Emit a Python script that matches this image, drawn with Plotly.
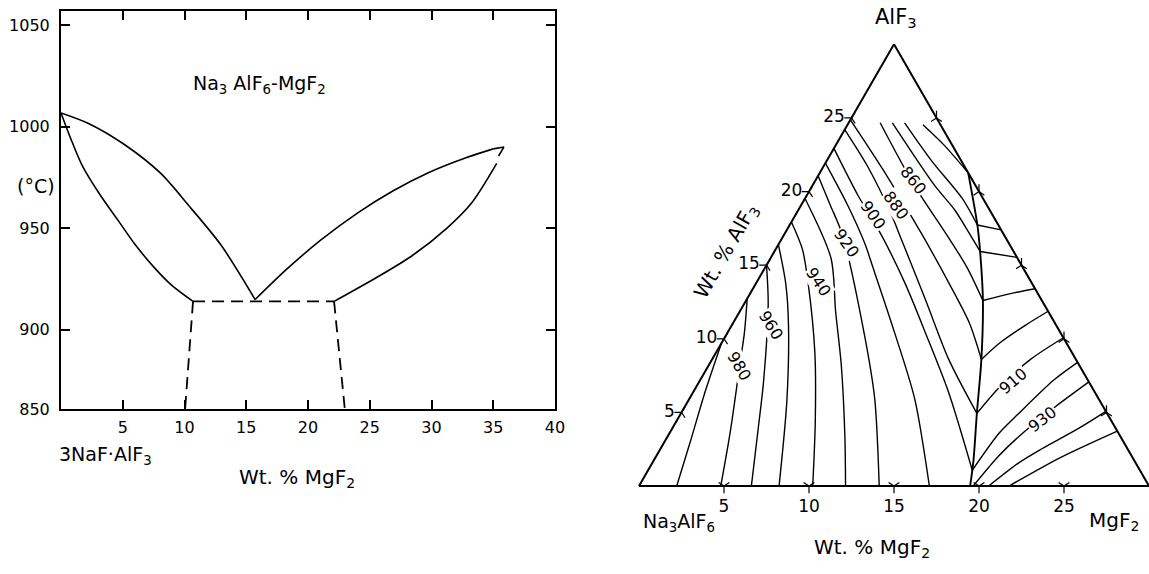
import plotly.graph_objects as go

W, H = 1149, 574
FONT = "DejaVu Sans"

# ---------------- Left: binary Na3AlF6-MgF2 (wt% MgF2, deg C) ----------------
liq_left_x = [0, 2.27, 5.19, 8.08, 10.37, 12.97, 15.72]
liq_left_t = [1006.8, 1001.5, 991.0, 977.0, 961.0, 941.6, 914.9]
sol_left_x = [0, 0.8, 1.71, 3.16, 4.61, 6.0, 7.5, 8.95, 10.69]
sol_left_t = [1006.8, 994.0, 981.0, 966.5, 954.0, 942.0, 931.0, 922.0, 914.0]
liq_right_x = [15.72, 18.21, 21.1, 24.0, 26.9, 29.79, 32.68, 35.0]
liq_right_t = [914.9, 929.5, 944.5, 957.5, 968.5, 977.5, 984.5, 989.1]
sol_right_x = [22.11, 25.45, 28.34, 31.23, 33.26, 35.28]
sol_right_t = [914.0, 925.4, 936.1, 950.0, 962.6, 982.0]
hook_x = [35.0, 35.86, 35.43]
hook_t = [989.1, 990.0, 985.6]
eut_x = [10.69, 22.11]
eut_t = [914.0, 914.0]
dash_left_x = [10.69, 10.05]
dash_right_x = [22.11, 22.98]
AXIS_FLOOR = 861.0          # bottom of the temperature axis (labelled 850)
dash_left_t = [914.0, AXIS_FLOOR]
dash_right_t = [914.0, AXIS_FLOOR]

y_tickvals = [AXIS_FLOOR, 900, 950, 1000, 1050]
y_ticktext = ["850", "900", "950", "1000", "1050"]
x_tickvals = [5, 10, 15, 20, 25, 30, 35, 40]

# ---------------- Right: ternary section (wt% AlF3, wt% MgF2) ----------------
# isotherms in the Na3AlF6 primary field
iso_990_alf3 = [9.7, 6.4, 3.07, 0]
iso_990_mgf2 = [0, 0.69, 1.50, 2.22]
iso_980_alf3 = [12.73, 10.4, 8.4, 3.73, 0]
iso_980_mgf2 = [0, 1.0, 1.75, 3.51, 4.81]
iso_970_alf3 = [15.0, 12.4, 7.07, 3.73, 0]
iso_970_mgf2 = [0, 1.40, 3.79, 5.13, 6.61]
iso_960_alf3 = [16.4, 13.73, 10.87, 5.73, 0]
iso_960_mgf2 = [0, 1.77, 3.36, 5.83, 8.24]
iso_950_alf3 = [17.93, 16.07, 13.73, 9.07, 4.4, 0]
iso_950_mgf2 = [0, 1.58, 3.09, 5.81, 8.17, 10.22]
iso_940_alf3 = [19.53, 15.47, 11.87, 8.2, 3.4, 0]
iso_940_mgf2 = [0, 3.56, 5.63, 7.8, 10.41, 12.15]
iso_930_alf3 = [21.07, 19.07, 17.07, 10.4, 5.93, 0]
iso_930_mgf2 = [0, 1.72, 3.43, 8.04, 10.9, 14.13]
iso_920_alf3 = [21.93, 19.07, 16.47, 14.87, 10.4, 5.93, 0]
iso_920_mgf2 = [0, 2.74, 5.05, 6.32, 9.84, 13.25, 17.08]
iso_910_alf3 = [22.93, 19.73, 17.07, 13.73, 10.4, 6.4, 1.07]
iso_910_mgf2 = [0, 3.02, 5.71, 8.8, 11.65, 15.0, 19.07]
iso_900_alf3 = [24.2, 21.6, 18.4, 16.87, 12.6, 8.6, 4.93]
iso_900_mgf2 = [0, 2.7, 5.66, 6.96, 10.57, 13.92, 17.41]
iso_890_alf3 = [24.87, 21.4, 17.07, 13.73, 11.07, 8.6]
iso_890_mgf2 = [0, 3.70, 8.12, 11.39, 13.9, 15.84]
iso_880_alf3 = [24.67, 20.4, 17.07, 14.87, 12.6]
iso_880_mgf2 = [1.85, 6.0, 9.56, 11.85, 13.93]
iso_870_alf3 = [24.67, 20.4, 18.73, 17.07, 15.93]
iso_870_mgf2 = [2.57, 7.2, 9.22, 10.94, 12.1]
iso_860_alf3 = [24.67, 22.07, 19.53, 17.73]
iso_860_mgf2 = [3.29, 6.19, 9.25, 11.04]
iso_850_alf3 = [24.53, 23.07, 21.27]
iso_850_mgf2 = [4.44, 6.48, 8.73]

# univariant boundary between the Na3AlF6 and MgF2 fields
bound_alf3 = [0, 1.73, 4.93, 8.6, 12.6, 15.93, 17.73, 21.27]
bound_mgf2 = [19.48, 18.81, 17.41, 15.84, 13.93, 12.1, 11.04, 8.73]

# isotherms in the MgF2 primary field
mg_860_alf3 = [17.73, 17.4]
mg_860_mgf2 = [11.04, 12.6]
mg_870_alf3 = [15.93, 15.53]
mg_870_mgf2 = [12.1, 14.47]
mg_880_alf3 = [12.6, 13.07, 13.4]
mg_880_mgf2 = [13.93, 15.32, 16.6]
mg_890_alf3 = [8.6, 9.73, 10.93, 11.87]
mg_890_mgf2 = [15.84, 16.37, 17.28, 18.13]
mg_900_alf3 = [4.93, 6.73, 8.6, 10.07]
mg_900_mgf2 = [17.41, 17.85, 18.73, 19.93]
mg_910_alf3 = [1.07, 3.6, 4.87, 7.2, 8.4]
mg_910_mgf2 = [19.07, 19.39, 19.85, 20.8, 21.6]
mg_920_alf3 = [0, 2.07, 3.6, 5.4, 7.07]
mg_920_mgf2 = [19.66, 20.15, 20.78, 21.81, 22.93]
mg_930_alf3 = [0, 1.6, 2.53, 3.93, 5.07]
mg_930_mgf2 = [20.57, 21.58, 22.44, 23.92, 24.93]
mg_940_alf3 = [0, 1.93, 3.73]
mg_940_mgf2 = [21.77, 23.82, 26.27]

# isotherm labels
lab_text = ["980", "960", "940", "920", "900", "880", "860", "910", "930"]
lab_alf3 = [8.13, 10.87, 13.87, 16.47, 18.4, 20.4, 22.07, 5.87, 3.27]
lab_mgf2 = [1.85, 3.36, 4.65, 5.05, 5.66, 6.0, 6.19, 20.26, 23.22]
lab_angle = [60, 58, 56, 55, 55, 54, 52, -40, -38]

tern_ticks = [5, 10, 15, 20, 25]
TERN_SPAN = 30.0   # displayed section: 0-30 % AlF3, 0-30 % MgF2

# ---------------- layout geometry (pixels) ----------------
L_X0, L_X1, L_Y0, L_Y1 = 61, 555, 11, 409
T_X0, T_SIDE, T_BASE = 639, 510, 486


def paper(xp, yp):
    return xp / W, 1 - yp / H


def tern_paper(a, c):
    xp = T_X0 + (c + a / 2) / TERN_SPAN * T_SIDE
    yp = T_BASE - a / TERN_SPAN * T_SIDE * 0.8660254
    return paper(xp, yp)


fig = go.Figure()

line_solid = dict(color="black", width=1.6)
line_dash = dict(color="black", width=1.8, dash="12px,7px")

for xs, ts in [(liq_left_x, liq_left_t), (sol_left_x, sol_left_t),
               (liq_right_x, liq_right_t), (sol_right_x, sol_right_t)]:
    fig.add_trace(go.Scatter(x=xs, y=ts, mode="lines",
                             line=dict(line_solid, shape="spline", smoothing=0.8),
                             hoverinfo="skip", xaxis="x", yaxis="y"))
fig.add_trace(go.Scatter(x=hook_x, y=hook_t, mode="lines", line=line_solid,
                         hoverinfo="skip", xaxis="x", yaxis="y"))
for xs, ts in [(eut_x, eut_t), (dash_left_x, dash_left_t), (dash_right_x, dash_right_t)]:
    fig.add_trace(go.Scatter(x=xs, y=ts, mode="lines", line=line_dash,
                             hoverinfo="skip", xaxis="x", yaxis="y"))


def tern_line(a_list, c_list, width=1.4):
    b_list = [100 - a - c for a, c in zip(a_list, c_list)]
    fig.add_trace(go.Scatterternary(a=a_list, b=b_list, c=c_list, mode="lines",
                                    line=dict(color="black", width=width, shape="spline", smoothing=0.8),
                                    cliponaxis=False, hoverinfo="skip"))


for a_l, c_l in [(iso_990_alf3, iso_990_mgf2), (iso_980_alf3, iso_980_mgf2),
                 (iso_970_alf3, iso_970_mgf2), (iso_960_alf3, iso_960_mgf2),
                 (iso_950_alf3, iso_950_mgf2), (iso_940_alf3, iso_940_mgf2),
                 (iso_930_alf3, iso_930_mgf2), (iso_920_alf3, iso_920_mgf2),
                 (iso_910_alf3, iso_910_mgf2), (iso_900_alf3, iso_900_mgf2),
                 (iso_890_alf3, iso_890_mgf2), (iso_880_alf3, iso_880_mgf2),
                 (iso_870_alf3, iso_870_mgf2), (iso_860_alf3, iso_860_mgf2),
                 (iso_850_alf3, iso_850_mgf2),
                 (mg_860_alf3, mg_860_mgf2), (mg_870_alf3, mg_870_mgf2),
                 (mg_880_alf3, mg_880_mgf2), (mg_890_alf3, mg_890_mgf2),
                 (mg_900_alf3, mg_900_mgf2), (mg_910_alf3, mg_910_mgf2),
                 (mg_920_alf3, mg_920_mgf2), (mg_930_alf3, mg_930_mgf2),
                 (mg_940_alf3, mg_940_mgf2)]:
    tern_line(a_l, c_l)
tern_line(bound_alf3, bound_mgf2, width=1.9)

mk = dict(color="black", size=9, line=dict(color="black", width=1.2))
# bottom edge ticks (MgF2)
fig.add_trace(go.Scatterternary(a=[0] * 5, c=tern_ticks, b=[100 - t for t in tern_ticks],
                                mode="markers", cliponaxis=False,
                                marker=dict(mk, symbol="y-down-open"), hoverinfo="skip"))
fig.add_trace(go.Scatterternary(a=[0] * 5, c=tern_ticks, b=[100 - t for t in tern_ticks],
                                mode="markers+text", text=[str(t) for t in tern_ticks],
                                textposition="bottom center", cliponaxis=False,
                                textfont=dict(family=FONT, size=17, color="black"),
                                marker=dict(size=20, color="rgba(0,0,0,0)"), hoverinfo="skip"))
# left edge ticks (AlF3)
fig.add_trace(go.Scatterternary(a=tern_ticks, c=[0] * 5, b=[100 - t for t in tern_ticks],
                                mode="markers+text", text=[str(t) for t in tern_ticks],
                                textposition="middle left", cliponaxis=False,
                                textfont=dict(family=FONT, size=17, color="black"),
                                marker=dict(mk, symbol="y-left-open"), hoverinfo="skip"))
# right edge ticks
fig.add_trace(go.Scatterternary(a=tern_ticks, c=[TERN_SPAN - t for t in tern_ticks],
                                b=[100 - TERN_SPAN] * 5, mode="markers", cliponaxis=False,
                                marker=dict(mk, symbol="y-up-open"), hoverinfo="skip"))

ann = []
for t, a, c, ang in zip(lab_text, lab_alf3, lab_mgf2, lab_angle):
    xp, yp = tern_paper(a, c)
    ann.append(dict(x=xp, y=yp, xref="paper", yref="paper", text=t, showarrow=False,
                    textangle=ang, font=dict(family=FONT, size=16, color="black"),
                    bgcolor="white", borderpad=0))


def txt(xp, yp, text, size=18, angle=0, xanchor="center"):
    px, py = paper(xp, yp)
    ann.append(dict(x=px, y=py, xref="paper", yref="paper", text=text, showarrow=False,
                    textangle=angle, xanchor=xanchor, yanchor="middle",
                    font=dict(family=FONT, size=size, color="black")))


txt(896, 18, "AlF<sub>3</sub>", size=21)
txt(679, 522, "Na<sub>3</sub>AlF<sub>6</sub>", size=19)
txt(1114, 521, "MgF<sub>2</sub>", size=20)
txt(872, 548, "Wt. % MgF<sub>2</sub>", size=20)
txt(726, 252, "Wt. % AlF<sub>3</sub>", size=20, angle=-60)

txt(259, 84, "Na<sub>3</sub> AlF<sub>6</sub>-MgF<sub>2</sub>", size=19)
txt(36, 186, "(°C)", size=19)
txt(57, 455, "3NaF·AlF<sub>3</sub>", size=19, xanchor="left")
txt(297, 478, "Wt. % MgF<sub>2</sub>", size=20)

axis_common = dict(showline=True, linecolor="black", linewidth=2, mirror="ticks",
                   ticks="inside", ticklen=9, tickwidth=2, tickcolor="black",
                   showgrid=False, zeroline=False,
                   tickfont=dict(family=FONT, size=16, color="black"))

tern_axis = dict(showline=True, linecolor="black", linewidth=2, showgrid=False,
                 showticklabels=False, ticks="", title=dict(text=""))

fig.update_layout(
    width=W, height=H,
    margin=dict(l=0, r=0, t=0, b=0, pad=0, autoexpand=False),
    paper_bgcolor="white", plot_bgcolor="white",
    showlegend=False,
    xaxis=dict(axis_common, domain=[L_X0 / W, L_X1 / W], range=[0, 40],
               tickvals=x_tickvals, ticklabelstandoff=3),
    yaxis=dict(axis_common, domain=[1 - L_Y1 / H, 1 - L_Y0 / H], range=[AXIS_FLOOR, 1057],
               tickvals=y_tickvals, ticktext=y_ticktext, ticklabelstandoff=6),
    ternary=dict(sum=100, bgcolor="white",
                 domain=dict(x=[T_X0 / W, min(1.0, (T_X0 + T_SIDE) / W)],
                             y=[1 - T_BASE / H, 1 - (T_BASE - T_SIDE * 0.8660254) / H]),
                 aaxis=dict(tern_axis, min=0),
                 baxis=dict(tern_axis, min=100 - TERN_SPAN),
                 caxis=dict(tern_axis, min=0)),
    annotations=ann,
)

fig.write_html("out.html", config={"displayModeBar": False},
               post_script="document.body.style.margin='0';document.body.style.overflow='hidden';")
